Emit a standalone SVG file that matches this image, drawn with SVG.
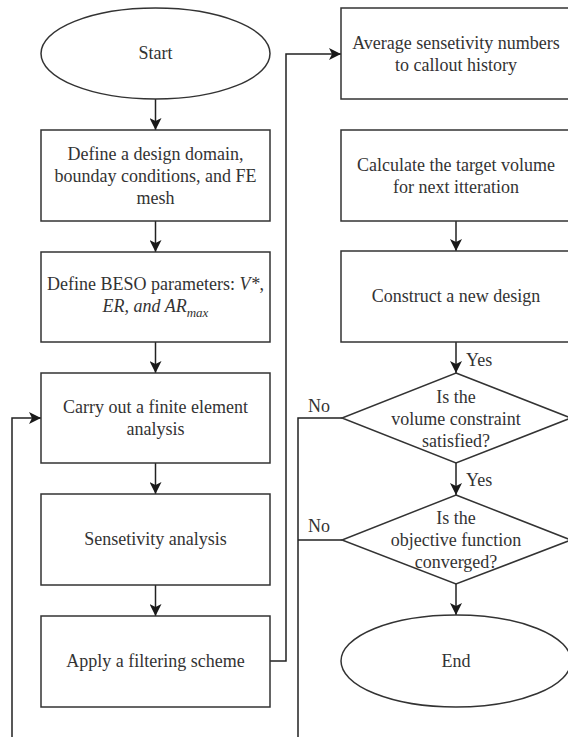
<svg xmlns="http://www.w3.org/2000/svg" width="568" height="737" viewBox="0 0 568 737">
<defs>
<marker id="ah" markerWidth="12" markerHeight="12" viewBox="0 0 12 12" refX="12" refY="6" orient="auto" markerUnits="userSpaceOnUse">
<path d="M0,0 L12,6 L0,12 L3,6 Z" fill="#1a1a1a"/>
</marker>
<style>
.n{fill:#fff;stroke:#333;stroke-width:1.5}
.t{font-family:"Liberation Serif","Times New Roman",serif;font-size:18px;fill:#333;text-anchor:middle}
.l{font-family:"Liberation Serif","Times New Roman",serif;font-size:18px;fill:#333}
.c{fill:none;stroke:#222;stroke-width:1.5}
.a{marker-end:url(#ah)}
</style>
</defs>
<rect width="568" height="737" fill="#fff"/>
<g id="connectors">
<path class="c a" d="M155.5,99 V130"/>
<path class="c a" d="M155.5,221 V252"/>
<path class="c a" d="M155.5,342 V373"/>
<path class="c a" d="M155.5,463 V494"/>
<path class="c a" d="M155.5,585 V616"/>
<path class="c a" d="M12,737 V418 H41"/>
<path class="c a" d="M270,661 H286 V54 H341"/>
<path class="c a" d="M456,221 V251"/>
<path class="c a" d="M456,342 V373"/>
<path class="c a" d="M456,463 V495"/>
<path class="c a" d="M456,584 V615"/>
<path class="c" d="M342,418 H298 V737"/>
<path class="c" d="M342,540 H298"/>
<text class="l" x="466" y="366">Yes</text>
<text class="l" x="466" y="486">Yes</text>
<text class="l" x="308" y="412">No</text>
<text class="l" x="308" y="532">No</text>
</g>
<g id="start">
<ellipse class="n" cx="155.5" cy="53.5" rx="114.5" ry="45.5"/>
<text class="t" x="155.5" y="59">Start</text>
</g>
<g id="define-domain">
<rect class="n" x="41" y="130" width="229" height="91"/>
<text class="t" x="155.5" y="160">Define a design domain,</text>
<text class="t" x="155.5" y="182">bounday conditions, and FE</text>
<text class="t" x="155.5" y="204">mesh</text>
</g>
<g id="define-beso">
<rect class="n" x="41" y="252" width="229" height="90"/>
<text class="t" x="155.5" y="290">Define BESO parameters: <tspan font-style="italic">V*</tspan>,</text>
<text class="t" x="155.5" y="312" font-style="italic">ER, and AR<tspan font-size="13" dy="5">max</tspan></text>
</g>
<g id="fe-analysis">
<rect class="n" x="41" y="373" width="229" height="90"/>
<text class="t" x="155.5" y="413">Carry out a finite element</text>
<text class="t" x="155.5" y="435">analysis</text>
</g>
<g id="sensitivity">
<rect class="n" x="41" y="494" width="229" height="91"/>
<text class="t" x="155.5" y="545">Sensetivity analysis</text>
</g>
<g id="filtering">
<rect class="n" x="41" y="616" width="229" height="91"/>
<text class="t" x="155.5" y="667">Apply a filtering scheme</text>
</g>
<g id="average">
<rect class="n" x="341" y="8" width="230" height="91"/>
<text class="t" x="456" y="48.5">Average sensetivity numbers</text>
<text class="t" x="456" y="70.5">to callout history</text>
</g>
<g id="target-volume">
<rect class="n" x="341" y="130" width="230" height="91"/>
<text class="t" x="456" y="171">Calculate the target volume</text>
<text class="t" x="456" y="193">for next itteration</text>
</g>
<g id="new-design">
<rect class="n" x="341" y="251" width="230" height="91"/>
<text class="t" x="456" y="302">Construct a new design</text>
</g>
<g id="volume-check">
<polygon class="n" points="456,373 571,418 456,463 342,418"/>
<text class="t" x="456" y="403">Is the</text>
<text class="t" x="456" y="425">volume constraint</text>
<text class="t" x="456" y="447">satisfied?</text>
</g>
<g id="converged-check">
<polygon class="n" points="456,495 571,540 456,584 342,540"/>
<text class="t" x="456" y="524">Is the</text>
<text class="t" x="456" y="546">objective function</text>
<text class="t" x="456" y="568">converged?</text>
</g>
<g id="end">
<ellipse class="n" cx="456" cy="661" rx="115" ry="46"/>
<text class="t" x="456" y="667">End</text>
</g>
</svg>
